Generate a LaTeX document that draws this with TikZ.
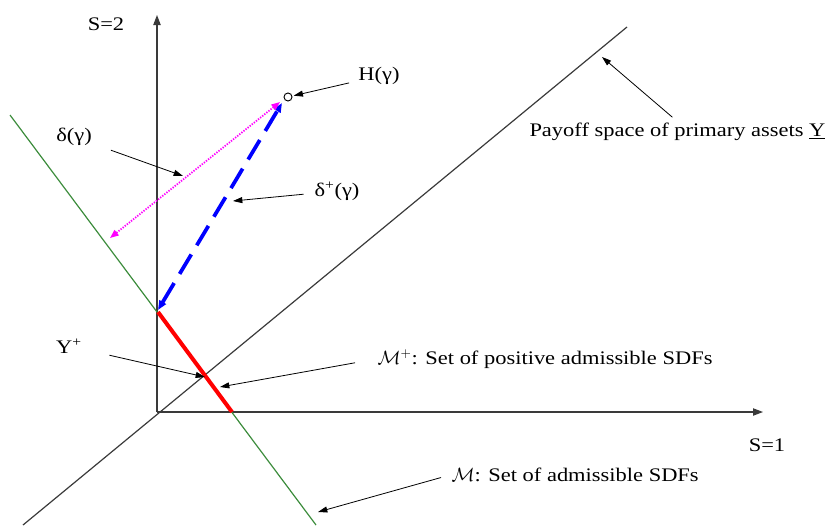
\documentclass[tikz,border=0pt]{standalone}
\usepackage{fontspec}
\setmainfont{Liberation Serif}[FakeStretch=1.17]
\usetikzlibrary{arrows.meta,calc,positioning}
\definecolor{admgreen}{HTML}{3C8C3C}
\definecolor{axisgray}{HTML}{3A3A3A}
\definecolor{dmagenta}{HTML}{FF00FF}

\begin{document}
\begin{tikzpicture}[
  x=0.75pt,y=-0.75pt,
  font=\fontsize{14.4}{16}\selectfont,
  axis/.style={-{Triangle[length=7.5pt,width=5.5pt]},axisgray,line width=0.8pt},
  note/.style={-{Triangle[length=7pt,width=4.5pt]},black,line width=0.6pt},
  lbl/.style={inner sep=1pt},
  hedge/.style={{Triangle[length=7pt,width=5.5pt]}-{Triangle[length=7pt,width=5.5pt]},
                blue,line width=2.8pt,dash pattern=on 17pt off 8pt},
  dist/.style={{Triangle[length=6.5pt,width=5pt]}-{Triangle[length=6.5pt,width=5pt]},
               dmagenta,line width=1.3pt,dash pattern=on 1pt off 1pt}
]
  \useasboundingbox (0,0) rectangle (831,525);

  % axes
  \coordinate (O) at (157,412);
  \coordinate (ytip) at (157,15);
  \coordinate (xtip) at (763,412);
  \draw[axis] (O) -- (ytip);
  \draw[axis] (O) -- (xtip);
  \node[lbl] (s2) at (106,24) {S=2};
  \node[lbl] (s1) at (767,445) {S=1};

  % payoff space and admissible SDFs
  \coordinate (pa) at (23,525);
  \coordinate (pb) at (627,27);
  \draw[axisgray,line width=0.9pt] (pa) -- (pb);
  \coordinate (ga) at (10,115);
  \coordinate (gb) at (316,525);
  \draw[admgreen,line width=0.9pt] (ga) -- (gb);
  \coordinate (ra) at (158,312);
  \coordinate (rb) at (232,412);
  \draw[red,line width=3pt] (ra) -- (rb);

  % H(gamma) and distances
  \node[draw,circle,minimum size=6pt,inner sep=0pt,line width=0.7pt] (hpt) at (288,97) {};
  \coordinate (hb) at (282,103);
  \coordinate (mb) at (158,310);
  \draw[hedge] (mb) -- (hb);
  \coordinate (dtop) at (280,102);
  \coordinate (dbot) at (110,238);
  \draw[dist] (dbot) -- (dtop);

  % labels
  \node[lbl] (hlab) at (379,76) {H(γ)};
  \node[lbl] (dlab) at (74,137) {δ(γ)};
  \node[lbl] (dplab) at (337,191) {δ\textsuperscript{+}(γ)};
  \node[lbl] (yplab) at (69,346) {Y\textsuperscript{+}};
  \node[lbl,anchor=west] (mplab) at (376,359) {$\mathcal{M}^{+}$: Set of positive admissible SDFs};
  \node[lbl,anchor=west] (mlab) at (450,475) {$\mathcal{M}$: Set of admissible SDFs};
  \node[lbl,anchor=east] (plab) at (827,132) {Payoff space of primary assets \underline{Y}};

  % pointers
  \coordinate (dtgt) at (183,176);
  \coordinate (dptgt) at (233,201);
  \coordinate (ystar) at (205,377);
  \coordinate (mptgt) at (220,387);
  \coordinate (mtgt) at (318,512);
  \coordinate (ptgt) at (602,57);
  \draw[note,shorten <=6pt,shorten >=1pt] (hlab) -- (hpt);
  \draw[note,shorten <=14pt] (dlab) -- (dtgt);
  \draw[note,shorten <=7pt] (dplab) -- (dptgt);
  \draw[note,shorten <=20pt] (yplab) -- (ystar);
  \draw[note,shorten <=16pt] (mplab.west) -- (mptgt);
  \draw[note,shorten <=7pt] (mlab.west) -- (mtgt);
  \draw[note,shorten <=5pt] (plab.north) -- (ptgt);
\end{tikzpicture}
\end{document}
